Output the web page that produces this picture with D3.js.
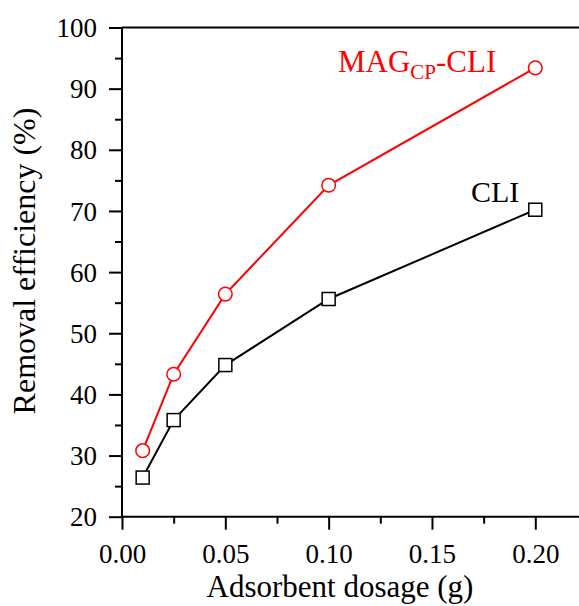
<!DOCTYPE html>
<html>
<head>
<meta charset="utf-8">
<script src="https://cdn.jsdelivr.net/npm/d3@7"></script>
<style>
  body { margin: 0; background: #fff; }
  text { font-family: "Liberation Serif", "Times New Roman", serif; }
</style>
</head>
<body>
<svg id="chart" width="579" height="606"></svg>
<script>
// data
const dosage = [0.01, 0.025, 0.05, 0.10, 0.20];
const cliValues = [26.4, 35.8, 44.8, 55.6, 70.2];
const magValues = [30.8, 43.3, 56.4, 74.2, 93.4];
const xTicks = [0, 0.05, 0.10, 0.15, 0.20];
const yTicks = [20, 30, 40, 50, 60, 70, 80, 90, 100];

const svg = d3.select("#chart"),
    width = +svg.attr("width"),
    height = +svg.attr("height");

const plotLeft = 122, plotTop = 27.5, plotBottom = 516.7;

const x = d3.scaleLinear().domain([0, 0.22]).range([plotLeft, plotLeft + 0.22 * 2066.5]);
const y = d3.scaleLinear().domain([20, 100]).range([plotBottom, plotTop]);

// frame: top and bottom lines run off the right edge
svg.append("line")
    .attr("x1", plotLeft).attr("x2", width)
    .attr("y1", plotTop).attr("y2", plotTop)
    .attr("stroke", "#000").attr("stroke-width", 2);

// y axis
const yAxis = svg.append("g")
    .attr("transform", `translate(${plotLeft},0)`)
    .call(d3.axisLeft(y).tickValues(yTicks).tickSize(13).tickFormat(d3.format("d")));
svg.append("g")
    .attr("transform", `translate(${plotLeft},0)`)
    .call(d3.axisLeft(y).tickValues(d3.range(25, 100, 10)).tickSize(7).tickFormat(""))
    .call(g => g.select(".domain").remove());

// x axis
const xAxis = svg.append("g")
    .attr("transform", `translate(0,${plotBottom})`)
    .call(d3.axisBottom(x).tickValues(xTicks).tickSize(13).tickFormat(d3.format(".2f")));
svg.append("g")
    .attr("transform", `translate(0,${plotBottom})`)
    .call(d3.axisBottom(x).tickValues([0.025, 0.075, 0.125, 0.175]).tickSize(7).tickFormat(""))
    .call(g => g.select(".domain").remove());

svg.selectAll(".tick line").attr("stroke", "#000").attr("stroke-width", 2);
svg.selectAll(".domain").attr("stroke", "#000").attr("stroke-width", 2);
xAxis.select(".domain").attr("d", `M${plotLeft},0H${width}`);
yAxis.select(".domain").attr("d", `M0,${plotTop}V${plotBottom}`);

yAxis.selectAll(".tick text")
    .attr("x", -25).attr("dy", "0.34em")
    .attr("font-size", 27).attr("fill", "#000")
    .style("font-family", "Liberation Serif");
xAxis.selectAll(".tick text")
    .attr("y", 46).attr("dy", null)
    .attr("font-size", 27).attr("fill", "#000")
    .style("font-family", "Liberation Serif");

// axis titles
svg.append("text")
    .attr("transform", `translate(35,261) rotate(-90)`)
    .attr("text-anchor", "middle")
    .attr("font-size", 32)
    .text("Removal efficiency (%)");

svg.append("text")
    .attr("x", 340).attr("y", 597)
    .attr("text-anchor", "middle")
    .attr("font-size", 31)
    .text("Adsorbent dosage (g)");

// series
const line = d3.line().x((d, i) => x(dosage[i])).y(d => y(d));

svg.append("path")
    .datum(cliValues)
    .attr("d", line)
    .attr("fill", "none").attr("stroke", "#000").attr("stroke-width", 2);

svg.append("path")
    .datum(magValues)
    .attr("d", line)
    .attr("fill", "none").attr("stroke", "#ff0000").attr("stroke-width", 2);

svg.append("g")
    .selectAll("rect")
    .data(cliValues)
    .join("rect")
    .attr("x", (d, i) => x(dosage[i]) - 6.5)
    .attr("y", d => y(d) - 6.5)
    .attr("width", 13).attr("height", 13)
    .attr("fill", "#fff").attr("stroke", "#000").attr("stroke-width", 1.5);

svg.append("g")
    .selectAll("circle")
    .data(magValues)
    .join("circle")
    .attr("cx", (d, i) => x(dosage[i]))
    .attr("cy", d => y(d))
    .attr("r", 6.8)
    .attr("fill", "#fff").attr("stroke", "#ff0000").attr("stroke-width", 1.5);

// series labels
const magLabel = svg.append("text")
    .attr("x", 338).attr("y", 72)
    .attr("font-size", 31)
    .attr("fill", "#ff0000");
magLabel.append("tspan").text("MAG");
magLabel.append("tspan").attr("font-size", 21).attr("dy", 7).text("CP");
magLabel.append("tspan").attr("dy", -7).text("-CLI");

svg.append("text")
    .attr("x", 471).attr("y", 202)
    .attr("font-size", 30)
    .attr("fill", "#000")
    .text("CLI");
</script>
</body>
</html>
